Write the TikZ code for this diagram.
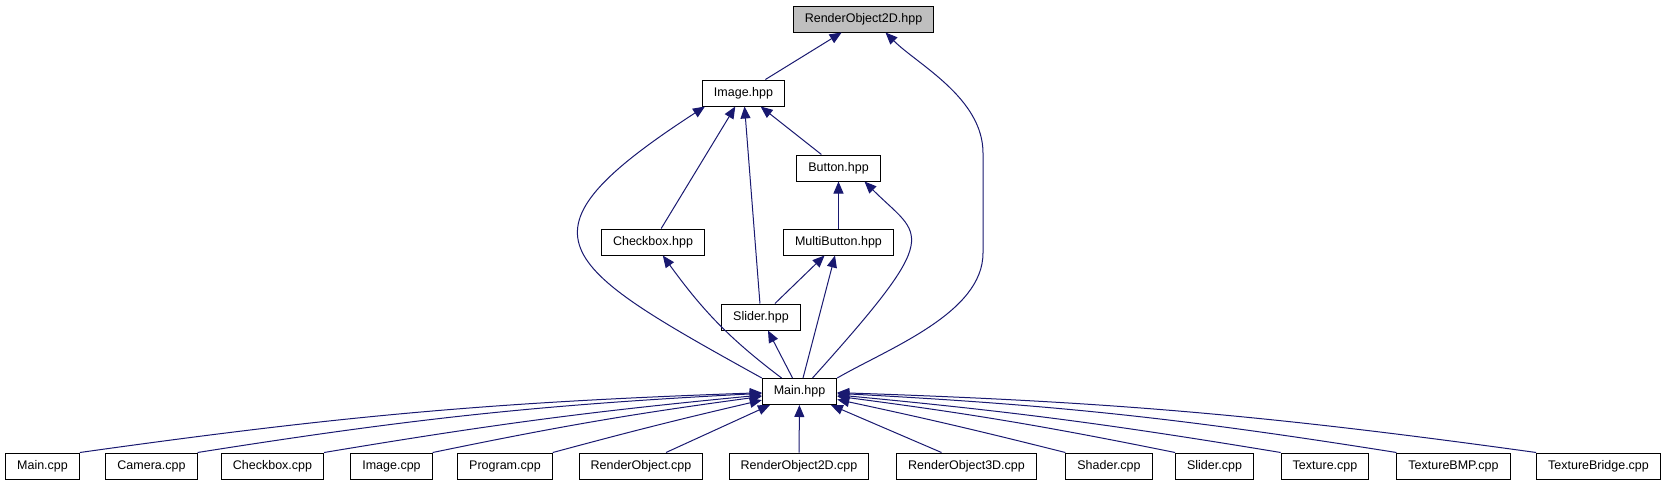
\documentclass[tikz,border=0pt]{standalone}
\usepackage{fontspec}
\setmainfont{Liberation Sans}
\usetikzlibrary{arrows.meta,positioning}
\definecolor{DoxEdge}{HTML}{191970}
\definecolor{DoxRoot}{HTML}{BFBFBF}
\definecolor{DoxInk}{HTML}{000000}

\begin{document}
\begin{tikzpicture}[
    x=1pt, y=1pt,
    file/.style={draw=DoxInk, line width=1pt, fill=white, inner xsep=11.5pt,
      inner ysep=0pt, minimum height=26pt, font=\fontsize{12.5}{15}\selectfont},
    root/.style={file, fill=DoxRoot},
    dep/.style={-{Triangle[length=12pt,width=10pt]}, line width=1pt, draw=DoxEdge}
  ]
    \useasboundingbox (0,0) rectangle (1668,-485);
    \node[root] (ro2d) at (863.5,-19) {RenderObject2D.hpp};
    \node[file] (image) at (743.5,-93) {Image.hpp};
    \node[file] (button) at (838.5,-168) {Button.hpp};
    \node[file] (chkhpp) at (653,-242) {Checkbox.hpp};
    \node[file] (multi) at (838.5,-242) {MultiButton.hpp};
    \node[file] (sldhpp) at (761,-317) {Slider.hpp};
    \node[file] (mainhpp) at (799.5,-391.5) {Main.hpp};
    \node[file] (maincpp) at (42.5,-466) {Main.cpp};
    \node[file] (camcpp) at (151.5,-466) {Camera.cpp};
    \node[file] (chkcpp) at (272.5,-466) {Checkbox.cpp};
    \node[file] (imgcpp) at (391.5,-466) {Image.cpp};
    \node[file] (progcpp) at (505,-466) {Program.cpp};
    \node[file] (rocpp) at (641,-466) {RenderObject.cpp};
    \node[file] (ro2dcpp) at (799,-466) {RenderObject2D.cpp};
    \node[file] (ro3dcpp) at (966.5,-466) {RenderObject3D.cpp};
    \node[file] (shadcpp) at (1109,-466) {Shader.cpp};
    \node[file] (sldcpp) at (1214.5,-466) {Slider.cpp};
    \node[file] (texcpp) at (1325,-466) {Texture.cpp};
    \node[file] (bmpcpp) at (1453.5,-466) {TextureBMP.cpp};
    \node[file] (bridgecpp) at (1598.5,-466) {TextureBridge.cpp};
    \draw[dep] (image) -- (ro2d);
    \draw[dep] (mainhpp.north east) .. controls +(30:60) and +(-90:60) .. (983,-253)
      -- (983,-153) .. controls +(90:55) and +(-45:45) .. ([xshift=22pt]ro2d.south);
    \draw[dep] (button) -- (image);
    \draw[dep] (chkhpp) -- (image);
    \draw[dep] (sldhpp) -- (image);
    \draw[dep] (mainhpp.north west) .. controls +(151:236) and +(-147:236) .. ([xshift=3pt]image.south west);
    \draw[dep] (multi) -- (button);
    \draw[dep] ([xshift=13pt]mainhpp.north) .. controls +(48:200) and +(-45:80) .. ([xshift=26pt]button.south);
    \draw[dep] (sldhpp) -- (multi);
    \draw[dep] (mainhpp) -- (multi);
    \draw[dep] (mainhpp) to[out=143, in=-54] (chkhpp);
    \draw[dep] (mainhpp) -- (sldhpp);
    \draw[dep] (maincpp.north east) to[bend left=3] (mainhpp);
    \draw[dep] (camcpp.north east) to[bend left=3] (mainhpp);
    \draw[dep] (chkcpp.north east) to[bend left=2] (mainhpp);
    \draw[dep] (imgcpp.north east) to[bend left=2] (mainhpp);
    \draw[dep] (progcpp.north east) to[bend left=1] (mainhpp);
    \draw[dep] ([xshift=25pt]rocpp.north) -- (mainhpp);
    \draw[dep] (ro2dcpp) -- (mainhpp);
    \draw[dep] ([xshift=-25pt]ro3dcpp.north) -- (mainhpp);
    \draw[dep] (shadcpp.north west) to[bend right=1] (mainhpp);
    \draw[dep] (sldcpp.north west) to[bend right=2] (mainhpp);
    \draw[dep] (texcpp.north west) to[bend right=2] (mainhpp);
    \draw[dep] (bmpcpp.north west) to[bend right=3] (mainhpp);
    \draw[dep] (bridgecpp.north west) to[bend right=3] (mainhpp);
  \end{tikzpicture}
\end{document}
